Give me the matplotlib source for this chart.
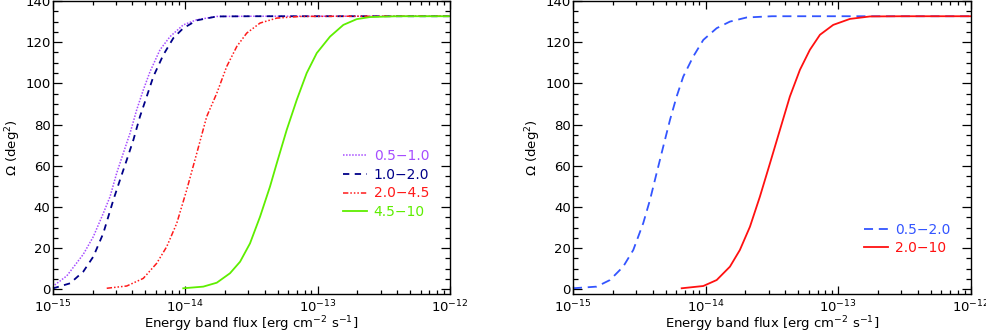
import numpy as np
import matplotlib
matplotlib.use("Agg")
import matplotlib.pyplot as plt
from matplotlib.ticker import MultipleLocator, LogLocator, LogFormatterMathtext, NullFormatter

# ---- data (log10 flux, sky area in deg^2) ----
b05_10_logf = [-15.0, -14.995, -14.894, -14.769, -14.693, -14.618, -14.567, -14.517, -14.467, -14.416,
               -14.366, -14.316, -14.265, -14.19, -14.114, -14.014, -13.912, -13.761, -13.5, -13.0, -12.0]
b05_10_area = [1.0, 1.6, 6.5, 17.0, 25.6, 36.9, 45.0, 56.4, 66.1, 75.8,
               87.1, 96.8, 105.7, 116.3, 122.7, 128.4, 130.9, 132.5, 132.6, 132.6, 132.6]

b10_20_logf = [-15.0, -14.995, -14.869, -14.769, -14.693, -14.618, -14.542, -14.492, -14.441, -14.391,
               -14.341, -14.29, -14.24, -14.165, -14.089, -14.014, -13.912, -13.761, -13.5, -13.0, -12.0]
b10_20_area = [0.4, 0.5, 2.9, 8.6, 15.9, 27.2, 43.4, 53.1, 62.8, 72.5,
               83.9, 93.6, 103.3, 113.8, 122.0, 126.8, 130.6, 132.5, 132.6, 132.6, 132.6]

b20_45_logf = [-14.592, -14.441, -14.316, -14.215, -14.139, -14.063, -13.988, -13.912, -13.837, -13.761,
               -13.686, -13.61, -13.535, -13.434, -13.308, -13.132, -12.8, -12.0]
b20_45_area = [0.5, 1.6, 5.3, 12.6, 20.7, 32.1, 48.3, 66.1, 83.9, 95.2,
               108.2, 117.9, 124.4, 129.3, 131.7, 132.5, 132.6, 132.6]

b45_10_logf = [-14.014, -13.863, -13.761, -13.661, -13.585, -13.51, -13.434, -13.359, -13.308, -13.233,
               -13.157, -13.082, -13.006, -12.906, -12.805, -12.704, -12.604, -12.4, -12.0]
b45_10_area = [0.5, 1.3, 3.2, 7.8, 13.4, 22.3, 35.3, 49.9, 61.2, 77.4,
               92.0, 105.0, 114.7, 122.7, 128.4, 131.2, 132.2, 132.6, 132.6]

b05_20_logf = [-15.0, -14.821, -14.721, -14.621, -14.545, -14.47, -14.419, -14.369, -14.319, -14.268,
               -14.218, -14.168, -14.093, -14.017, -13.916, -13.816, -13.69, -13.5, -13.0, -12.0]
b05_20_area = [0.5, 1.3, 4.5, 11.0, 19.1, 32.1, 43.4, 56.4, 69.3, 82.3,
               93.6, 103.3, 113.0, 121.1, 126.8, 130.0, 132.0, 132.6, 132.6, 132.6]

b20_100_logf = [-14.18, -14.017, -13.916, -13.816, -13.741, -13.665, -13.59, -13.514, -13.439, -13.364,
                -13.288, -13.213, -13.137, -13.037, -12.911, -12.76, -12.5, -12.0]
b20_100_area = [0.5, 1.6, 4.5, 11.0, 19.1, 30.4, 45.0, 61.2, 77.4, 93.6,
                106.6, 116.3, 123.6, 128.4, 131.3, 132.5, 132.6, 132.6]

left_labels = ["0.5\u22121.0", "1.0\u22122.0", "2.0\u22124.5", "4.5\u221210"]
right_labels = ["0.5\u22122.0", "2.0\u221210"]

plt.rcParams['font.family'] = ['DejaVu Sans']
plt.rcParams['mathtext.fontset'] = 'dejavusans'

fig = plt.figure(figsize=(9.87, 3.33), dpi=100)
ax1 = fig.add_axes([0.0534, 0.117, 0.4025, 0.880])
ax2 = fig.add_axes([0.5805, 0.117, 0.4030, 0.880])

def fl(v):
    return np.power(10.0, np.array(v))

ax1.plot(fl(b05_10_logf), b05_10_area, color='#a64dff', ls=(0, (1, 1)), lw=1.1, label=left_labels[0])
ax1.plot(fl(b10_20_logf), b10_20_area, color='#000088', ls=(0, (3.5, 3)), lw=1.3, label=left_labels[1])
ax1.plot(fl(b20_45_logf), b20_45_area, color='#ff1a1a', ls=(0, (3.5, 1.3, 1, 1.3, 1, 1.3, 1, 1.3)), lw=1.1, label=left_labels[2])
ax1.plot(fl(b45_10_logf), b45_10_area, color='#5eee00', ls='-', lw=1.3, label=left_labels[3])

ax2.plot(fl(b05_20_logf), b05_20_area, color='#3355ff', ls=(0, (5, 3.2)), lw=1.3, label=right_labels[0])
ax2.plot(fl(b20_100_logf), b20_100_area, color='#ff1010', ls='-', lw=1.3, label=right_labels[1])

FS = 9.5
for ax in (ax1, ax2):
    ax.set_xscale('log')
    ax.set_xlim(1e-15, 1e-12)
    ax.set_ylim(-2.3, 140)
    ax.yaxis.set_major_locator(MultipleLocator(20))
    ax.yaxis.set_minor_locator(MultipleLocator(5))
    ax.xaxis.set_major_locator(LogLocator(base=10, numticks=10))
    ax.xaxis.set_minor_locator(LogLocator(base=10, subs=np.arange(2, 10), numticks=10))
    ax.xaxis.set_major_formatter(LogFormatterMathtext())
    ax.xaxis.set_minor_formatter(NullFormatter())
    ax.tick_params(which='both', direction='in', top=True, right=True, labelsize=FS)
    ax.tick_params(axis='x', which='major', length=5.5, width=0.9, pad=3.5)
    ax.tick_params(axis='x', which='minor', length=3.0, width=0.9)
    ax.tick_params(axis='y', which='major', length=6.5, width=0.9, pad=1.5)
    ax.tick_params(axis='y', which='minor', length=3.3, width=0.9)
    for s in ax.spines.values():
        s.set_linewidth(1.0)
    ax.set_xlabel('Energy band flux [erg cm$^{-2}$ s$^{-1}$]', fontsize=FS, labelpad=-0.5)
    ax.set_ylabel(r'$\Omega$ (deg$^2$)', fontsize=FS, labelpad=1.5)

leg1 = ax1.legend(loc='upper left', bbox_to_anchor=(0.731, 0.494), frameon=False, fontsize=10,
                  handlelength=1.7, handletextpad=0.5, labelspacing=0.33, borderaxespad=0, borderpad=0)
for t, l in zip(leg1.get_texts(), leg1.get_lines()):
    t.set_color(l.get_color())

leg2 = ax2.legend(loc='upper left', bbox_to_anchor=(0.7325, 0.244), frameon=False, fontsize=10,
                  handlelength=1.7, handletextpad=0.5, labelspacing=0.33, borderaxespad=0, borderpad=0)
for t, l in zip(leg2.get_texts(), leg2.get_lines()):
    t.set_color(l.get_color())

fig.savefig('out.png', dpi=100)
